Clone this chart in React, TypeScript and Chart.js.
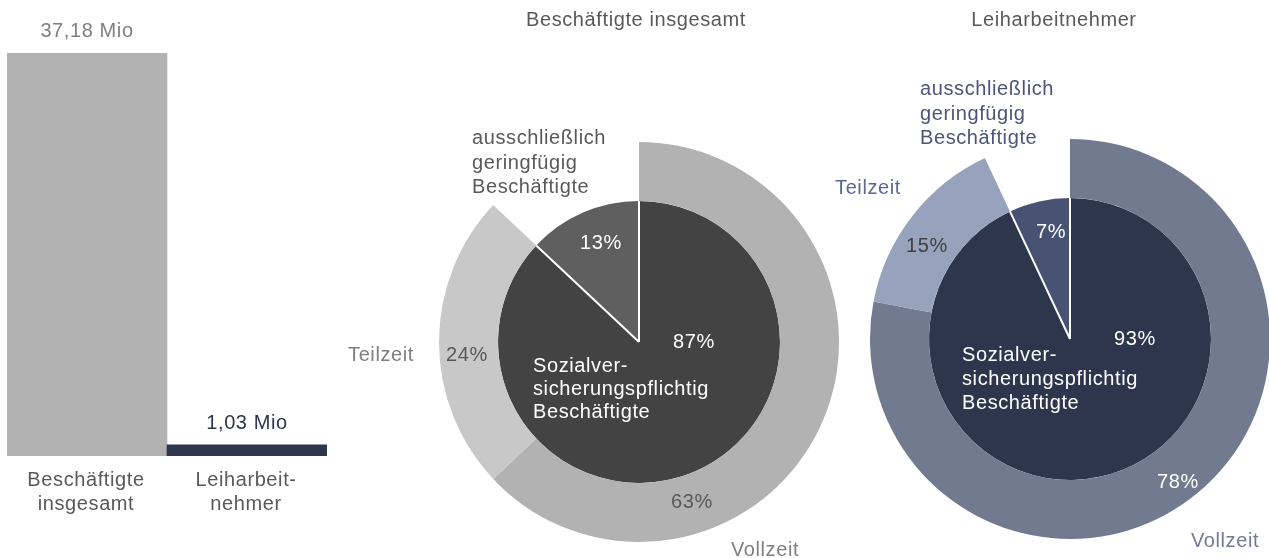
import React, { useEffect, useRef } from 'react';
import { Chart, registerables } from 'chart.js';

Chart.register(...registerables);

const FONT = "'Liberation Sans', Arial, sans-serif";

// ---------- data ----------
const barCategories = [['Beschäftigte', 'insgesamt'], ['Leiharbeit-', 'nehmer']];
const barValues = [37.18, 1.03]; // Mio
const barValueLabels = ['37,18 Mio', '1,03 Mio'];

const pieTitles = ['Beschäftigte insgesamt', 'Leiharbeitnehmer'];
const outerCategories = ['Vollzeit', 'Teilzeit', 'ausschließlich geringfügig Beschäftigte'];
const innerCategories = ['Sozialversicherungspflichtig Beschäftigte', 'ausschließlich geringfügig Beschäftigte'];
const innerLabelLines = ['Sozialver-', 'sicherungspflichtig', 'Beschäftigte'];
const geringLabelLines = ['ausschließlich', 'geringfügig', 'Beschäftigte'];
const totalOuter = [63, 24, 13];
const totalInner = [87, 13];
const leihOuter = [78, 15, 7];
const leihInner = [93, 7];

// ---------- styles ----------
const barColors = ['#b2b2b2', '#2e364d'];
const barValueColors = ['#7f7f7f', '#2e364d'];
const GRAY_TEXT = '#595959';
const TRANSPARENT = 'rgba(0,0,0,0)';

type Lbl = { lines: string[]; dx: number; dy: number; align: CanvasTextAlign; color: string; lh?: number };

function drawText(ctx: CanvasRenderingContext2D, lines: string[], x: number, y: number, align: CanvasTextAlign, color: string, lh = 24) {
  ctx.save();
  ctx.font = `20px ${FONT}`;
  (ctx as any).letterSpacing = '0.6px';
  ctx.fillStyle = color;
  ctx.textAlign = align;
  ctx.textBaseline = 'alphabetic';
  lines.forEach((l, i) => ctx.fillText(l, x, y + i * lh));
  ctx.restore();
}

const separatorPlugin = {
  id: 'separators',
  afterDatasetsDraw(chart: any) {
    const meta = chart.getDatasetMeta(1);
    const ctx = chart.ctx as CanvasRenderingContext2D;
    ctx.save();
    ctx.strokeStyle = '#ffffff';
    ctx.lineWidth = 2;
    meta.data.forEach((arc: any) => {
      const { x, y, startAngle, outerRadius } = arc.getProps(['x', 'y', 'startAngle', 'outerRadius'], true);
      ctx.beginPath();
      ctx.moveTo(x, y);
      ctx.lineTo(x + Math.cos(startAngle) * outerRadius, y + Math.sin(startAngle) * outerRadius);
      ctx.stroke();
    });
    ctx.restore();
  },
};

function pieLabelPlugin(labels: Lbl[]) {
  return {
    id: 'pieLabels',
    afterDraw(chart: any) {
      const arc = chart.getDatasetMeta(0).data[0];
      if (!arc) return;
      const { x, y } = arc.getProps(['x', 'y'], true);
      const ctx = chart.ctx as CanvasRenderingContext2D;
      labels.forEach((l) => drawText(ctx, l.lines, x + l.dx, y + l.dy, l.align, l.color, l.lh ?? 24));
    },
  };
}

const barLabelPlugin = {
  id: 'barLabels',
  afterDraw(chart: any) {
    const ctx = chart.ctx as CanvasRenderingContext2D;
    const meta = chart.getDatasetMeta(0);
    const bottom = chart.chartArea.bottom;
    meta.data.forEach((bar: any, i: number) => {
      const { x, y } = bar.getProps(['x', 'y'], true);
      drawText(ctx, [barValueLabels[i]], x, y - 16, 'center', barValueColors[i]);
      drawText(ctx, barCategories[i], x - 1, bottom + 30, 'center', GRAY_TEXT, 24);
    });
  },
};

const totalLabels: Lbl[] = [
  { lines: [pieTitles[0]], dx: -3, dy: -316, align: 'center', color: GRAY_TEXT },
  { lines: geringLabelLines, dx: -167, dy: -198, align: 'left', color: GRAY_TEXT, lh: 24.5 },
  { lines: [`${totalInner[1]}%`], dx: -38, dy: -93, align: 'center', color: '#ffffff' },
  { lines: [`${totalInner[0]}%`], dx: 55, dy: 6, align: 'center', color: '#ffffff' },
  { lines: [outerCategories[1]], dx: -258, dy: 19, align: 'center', color: '#7f7f7f' },
  { lines: [`${totalOuter[1]}%`], dx: -172, dy: 19, align: 'center', color: GRAY_TEXT },
  { lines: innerLabelLines, dx: -106, dy: 30, align: 'left', color: '#ffffff', lh: 23 },
  { lines: [`${totalOuter[0]}%`], dx: 53, dy: 166, align: 'center', color: GRAY_TEXT },
  { lines: [outerCategories[0]], dx: 126, dy: 214, align: 'center', color: '#7f7f7f' },
];

const leihLabels: Lbl[] = [
  { lines: [pieTitles[1]], dx: -16, dy: -313, align: 'center', color: GRAY_TEXT },
  { lines: geringLabelLines, dx: -150, dy: -244, align: 'left', color: '#4b5577', lh: 24.5 },
  { lines: [outerCategories[1]], dx: -202, dy: -145, align: 'center', color: '#5d6891' },
  { lines: [`${leihOuter[1]}%`], dx: -143, dy: -87, align: 'center', color: '#404040' },
  { lines: [`${leihInner[1]}%`], dx: -19, dy: -101, align: 'center', color: '#ffffff' },
  { lines: [`${leihInner[0]}%`], dx: 65, dy: 6, align: 'center', color: '#ffffff' },
  { lines: innerLabelLines, dx: -108, dy: 22, align: 'left', color: '#ffffff', lh: 24 },
  { lines: [`${leihOuter[0]}%`], dx: 108, dy: 149, align: 'center', color: '#ffffff' },
  { lines: [outerCategories[0]], dx: 155, dy: 208, align: 'center', color: '#727a8f' },
];

function pieConfig(outer: number[], inner: number[], outerColors: string[], innerColors: string[], padding: any, labels: Lbl[]): any {
  return {
    type: 'pie',
    data: {
      labels: outerCategories,
      datasets: [
        { label: 'outer', data: outer, backgroundColor: outerColors, borderWidth: 0, hoverOffset: 0, weight: 59 },
        { label: 'inner', data: inner, backgroundColor: innerColors, borderWidth: 0, hoverOffset: 0, weight: 141 },
      ],
    },
    options: {
      responsive: false,
      animation: false,
      events: [],
      layout: { padding },
      plugins: { legend: { display: false }, tooltip: { enabled: false }, title: { display: false } },
    },
    plugins: [separatorPlugin, pieLabelPlugin(labels)],
  };
}

function useChart(ref: React.RefObject<HTMLCanvasElement | null>, makeConfig: () => any) {
  useEffect(() => {
    if (!ref.current) return;
    const chart = new Chart(ref.current, makeConfig());
    return () => chart.destroy();
  }, []);
}

export default function App() {
  const barRef = useRef<HTMLCanvasElement>(null);
  const totalRef = useRef<HTMLCanvasElement>(null);
  const leihRef = useRef<HTMLCanvasElement>(null);

  useChart(barRef, () => ({
    type: 'bar',
    data: {
      labels: barCategories.map((c) => c.join(' ')),
      datasets: [
        {
          data: barValues,
          backgroundColor: barColors,
          borderWidth: 0,
          barPercentage: 1,
          categoryPercentage: 1,
        },
      ],
    },
    options: {
      responsive: false,
      animation: false,
      events: [],
      layout: { padding: { left: 7, right: 13, top: 53, bottom: 102 } },
      scales: {
        x: { display: false },
        y: { display: false, min: 0, max: 37.18 },
      },
      plugins: { legend: { display: false }, tooltip: { enabled: false } },
    },
    plugins: [barLabelPlugin],
  }));

  useChart(totalRef, () =>
    pieConfig(
      totalOuter,
      totalInner,
      ['#b2b2b2', '#c8c8c8', TRANSPARENT],
      ['#434343', '#5f5f5f'],
      { left: 99, right: 21, top: 142, bottom: 16 },
      totalLabels
    )
  );

  useChart(leihRef, () =>
    pieConfig(
      leihOuter,
      leihInner,
      ['#727a8f', '#97a2bc', TRANSPARENT],
      ['#2e364d', '#485273'],
      { left: 50, right: 20, top: 139, bottom: 19 },
      leihLabels
    )
  );

  const abs = (left: number): React.CSSProperties => ({ position: 'absolute', left, top: 0 });

  return (
    <div style={{ position: 'fixed', left: 0, top: 0, width: 1269, height: 558, overflow: 'hidden', background: '#ffffff' }}>
      <canvas ref={barRef} width={340} height={558} style={abs(0)} />
      <canvas ref={totalRef} width={520} height={558} style={abs(340)} />
      <canvas ref={leihRef} width={470} height={558} style={abs(820)} />
    </div>
  );
}
